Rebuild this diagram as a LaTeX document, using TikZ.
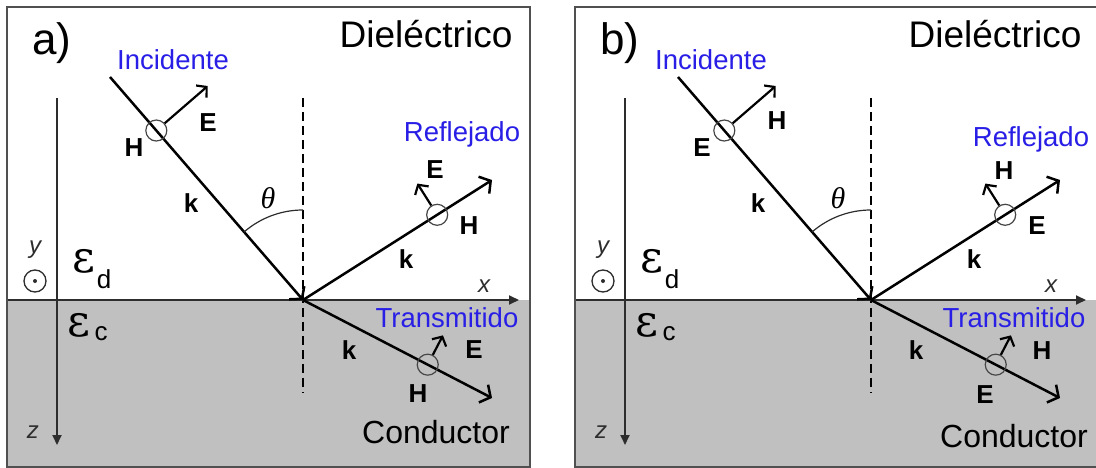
\documentclass[tikz,border=0pt]{standalone}
\usepackage{fontspec}
\setmainfont{Liberation Sans}
\newfontfamily\seriffont{Liberation Serif}
\newfontfamily\epsfont{DejaVu Serif}
\usetikzlibrary{arrows.meta,calc}
\definecolor{condgray}{RGB}{192,192,192}
\definecolor{bordercol}{RGB}{80,80,80}
\definecolor{axiscol}{RGB}{45,45,45}
\definecolor{labelblue}{RGB}{40,30,230}
\definecolor{circcol}{RGB}{70,70,70}
\begin{document}
\begin{tikzpicture}[x=1pt,y=-1pt,
 panelbox/.style={draw=bordercol,line width=2.2pt},
 ray/.style={line width=2.5pt,-{Straight Barb[length=8pt,width=20pt]}},
 field/.style={line width=2.2pt,-{Straight Barb[length=7pt,width=16pt]}},
 axisline/.style={draw=axiscol,line width=1.8pt,-{Triangle[length=10pt,width=9pt]}},
 normline/.style={line width=2.3pt,dash pattern=on 9pt off 5pt},
 anglearc/.style={draw=axiscol,line width=1.2pt},
 ring/.style={circle,draw=circcol,line width=1.2pt,minimum size=21pt,inner sep=0pt},
 vec/.style={font=\fontsize{26}{26}\selectfont\bfseries,anchor=base,inner sep=0pt},
 wave/.style={text=labelblue,font=\fontsize{27.5}{28}\selectfont,anchor=base,inner sep=0pt},
 dielfont/.style={font=\fontsize{37}{38}\selectfont,anchor=base,inner sep=0pt},
 condfont/.style={font=\fontsize{32}{33}\selectfont,anchor=base,inner sep=0pt},
 panellabel/.style={font=\fontsize{44}{44}\selectfont,anchor=base west,inner sep=0pt},
 axislabel/.style={text=axiscol,font=\fontsize{24}{24}\selectfont\itshape,anchor=base,inner sep=0pt},
 epsl/.style={font=\epsfont\fontsize{44}{44}\selectfont,inner sep=0pt},
 epssub/.style={font=\fontsize{26}{26}\selectfont,anchor=base,inner sep=0pt},
 thetalabel/.style={font=\seriffont\itshape\fontsize{30}{30}\selectfont,inner sep=0pt},
 outring/.style={circle,draw=axiscol,line width=1.3pt,minimum size=22pt,inner sep=0pt},
]
\useasboundingbox (0,0) rectangle (1096,468);
\fill[white] (0,0) rectangle (1096,468);

% ================= panel a =================
\fill[condgray] (7,300) rectangle (530,467);
\coordinate (Oa) at (303,300);
\coordinate (Ia) at (110,77);
\coordinate (Ra) at (492,180);
\coordinate (Ta) at (492,398);
\coordinate (Na1) at (303,98);
\coordinate (Na2) at (303,393);
\coordinate (Za1) at (57,98);
\coordinate (Za2) at (57,445);
\coordinate (Xa1) at (7,300);
\coordinate (Xa2) at (519,300);

\draw[normline] (Na1) -- (Na2);
\draw[axisline] (Za1) -- (Za2);
\draw[axisline] (Xa1) -- (Xa2);
\draw[ray] (Ia) -- (Oa);
\draw[ray] (Oa) -- (Ra);
\draw[ray] (Oa) -- (Ta);
\draw[anglearc,shift={(Oa)}] plot[domain=229:270,samples=40,smooth] ({90*cos(\x)},{90*sin(\x)});

\node[ring] (cia) at ($(Ia)!0.24!(Oa)$) {};
\node[ring] (cra) at ($(Oa)!0.71!(Ra)$) {};
\node[ring] (cta) at ($(Oa)!0.66!(Ta)$) {};
\coordinate (fia) at ($(cia.center)!68pt!90:(Oa)$);
\coordinate (fra) at ($(cra.center)!37pt!90:(Ra)$);
\coordinate (fta) at ($(cta.center)!33pt!90:(Ta)$);
\draw[field] (cia) -- (fia);
\draw[field] (cra) -- (fra);
\draw[field] (cta) -- (fta);

\node[panellabel] (pa) at (32,55) {a)};
\node[wave] (inca) at (173,70) {Incidente};
\node[wave] (refa) at (462,142) {Reflejado};
\node[wave] (tra) at (447,327) {Transmitido};
\node[dielfont] (diea) at (426,48) {Dieléctrico};
\node[condfont] (cona) at (436,443) {Conductor};

\node[vec] (Hia) at (134,157) {H};
\node[vec] (Eia) at (208,132) {E};
\node[vec] (kia) at (191,213) {k};
\node[vec] (Era) at (435,179) {E};
\node[vec] (Hra) at (469,235) {H};
\node[vec] (kra) at (406,268) {k};
\node[vec] (Eta) at (474,358) {E};
\node[vec] (Hta) at (418,402) {H};
\node[vec] (kta) at (349,359) {k};
\node[thetalabel] (tha) at (268,198) {θ};

\node[axislabel] (xa) at (484,292) {x};
\node[axislabel] (ya) at (35,253) {y};
\node[axislabel] (za) at (33,438) {z};
\node[outring] (oya) at (35,281) {};
\fill[axiscol] (oya.center) circle (2);

\node[epsl] (eda) at (84,261) {ε};
\node[epssub] (sda) at (104,288) {d};
\node[epsl] (eca) at (79,325) {ε};
\node[epssub] (sca) at (101,340) {c};

\draw[panelbox] (7,7) rectangle (530,467);

% ================= panel b =================
\fill[condgray] (575,300) rectangle (1099,467);
\coordinate (Ob) at (871,300);
\coordinate (Ib) at (678,77);
\coordinate (Rb) at (1060,180);
\coordinate (Tb) at (1060,398);
\coordinate (Nb1) at (871,98);
\coordinate (Nb2) at (871,393);
\coordinate (Zb1) at (625,98);
\coordinate (Zb2) at (625,445);
\coordinate (Xb1) at (575,300);
\coordinate (Xb2) at (1086,300);

\draw[normline] (Nb1) -- (Nb2);
\draw[axisline] (Zb1) -- (Zb2);
\draw[axisline] (Xb1) -- (Xb2);
\draw[ray] (Ib) -- (Ob);
\draw[ray] (Ob) -- (Rb);
\draw[ray] (Ob) -- (Tb);
\draw[anglearc,shift={(Ob)}] plot[domain=229:270,samples=40,smooth] ({90*cos(\x)},{90*sin(\x)});

\node[ring] (cib) at ($(Ib)!0.24!(Ob)$) {};
\node[ring] (crb) at ($(Ob)!0.71!(Rb)$) {};
\node[ring] (ctb) at ($(Ob)!0.66!(Tb)$) {};
\coordinate (fib) at ($(cib.center)!68pt!90:(Ob)$);
\coordinate (frb) at ($(crb.center)!37pt!90:(Rb)$);
\coordinate (ftb) at ($(ctb.center)!33pt!90:(Tb)$);
\draw[field] (cib) -- (fib);
\draw[field] (crb) -- (frb);
\draw[field] (ctb) -- (ftb);

\node[panellabel] (pb) at (600,55) {b)};
\node[wave] (incb) at (711,70) {Incidente};
\node[wave] (refb) at (1031,147) {Reflejado};
\node[wave] (trb) at (1014,327) {Transmitido};
\node[dielfont] (dieb) at (995,48) {Dieléctrico};
\node[condfont] (conb) at (1014,447) {Conductor};

\node[vec] (Eib) at (702,157) {E};
\node[vec] (Hib) at (777,130) {H};
\node[vec] (kib) at (758,213) {k};
\node[vec] (Hrb) at (1004,180) {H};
\node[vec] (Erb) at (1037,235) {E};
\node[vec] (krb) at (974,268) {k};
\node[vec] (Htb) at (1042,359) {H};
\node[vec] (Etb) at (985,403) {E};
\node[vec] (ktb) at (916,359) {k};
\node[thetalabel] (thb) at (838,198) {θ};

\node[axislabel] (xb) at (1051,292) {x};
\node[axislabel] (yb) at (603,253) {y};
\node[axislabel] (zb) at (601,438) {z};
\node[outring] (oyb) at (603,281) {};
\fill[axiscol] (oyb.center) circle (2);

\node[epsl] (edb) at (652,261) {ε};
\node[epssub] (sdb) at (672,288) {d};
\node[epsl] (ecb) at (647,325) {ε};
\node[epssub] (scb) at (669,340) {c};

\draw[panelbox] (575,7) rectangle (1099,467);
\end{tikzpicture}
\end{document}
